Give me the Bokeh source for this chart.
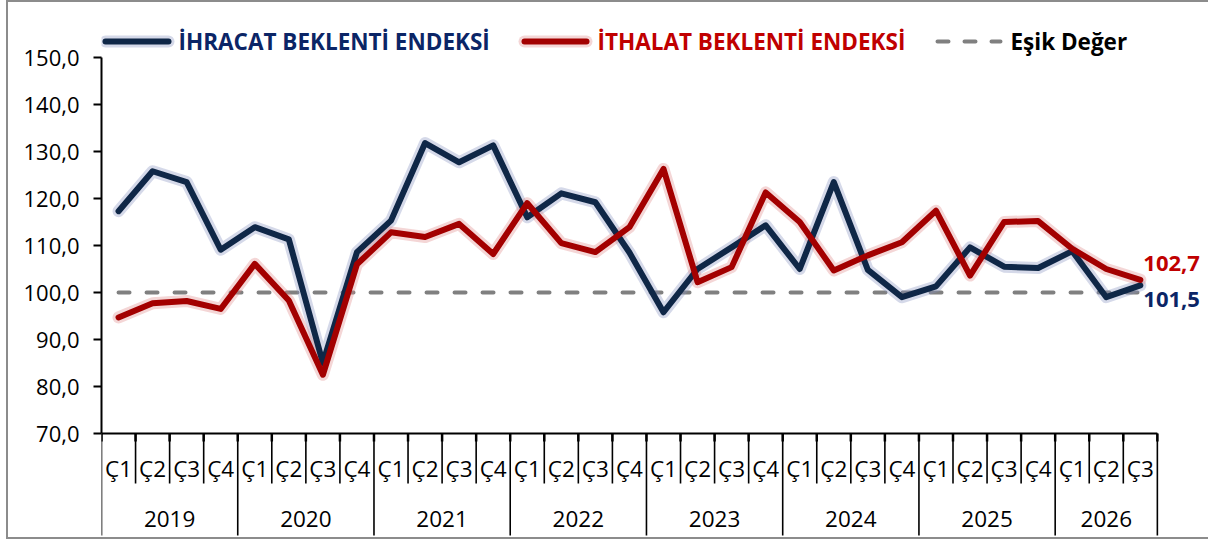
from bokeh.plotting import figure
from bokeh.models import Range1d, LinearAxis, FixedTicker, ColumnDataSource, CustomJSTickFormatter
from bokeh.core.properties import value
from bokeh.embed import file_html
from bokeh.resources import INLINE

# ---------------- data ----------------
years = ["2019", "2020", "2021", "2022", "2023", "2024", "2025", "2026"]
quarters_per_year = [4, 4, 4, 4, 4, 4, 4, 3]
quarter_names = ["Ç1", "Ç2", "Ç3", "Ç4"]

exports = [117.3, 125.8, 123.5, 109.1, 113.9, 111.3, 85.0, 108.6,
           115.3, 131.8, 127.7, 131.3, 116.0, 121.1, 119.2, 108.5,
           95.8, 105.0, 109.6, 114.3, 105.0, 123.5, 104.8, 99.0,
           101.3, 109.6, 105.5, 105.2, 108.8, 99.0, 101.5]
imports = [94.7, 97.7, 98.2, 96.5, 106.1, 98.3, 82.5, 106.0,
           112.8, 111.8, 114.6, 108.2, 119.0, 110.5, 108.6, 113.9,
           126.3, 102.2, 105.4, 121.3, 115.0, 104.7, 107.9, 110.7,
           117.4, 103.6, 115.0, 115.2, 109.3, 105.0, 102.7]
threshold = 100.0
y_ticks = [70, 80, 90, 100, 110, 120, 130, 140, 150]
series_names = ["İHRACAT BEKLENTİ ENDEKSİ", "İTHALAT BEKLENTİ ENDEKSİ", "Eşik Değer"]

# ---------------- layout constants ----------------
W, H = 1208, 539
LEFT = 101
PX_X = 34.06
PX_Y = 4.7
TOP_150 = 57  # px of value 150
Y_MIN, Y_MAX = y_ticks[0], y_ticks[-1]

NAVY = "#0F2747"
NAVY_TXT = "#0B2566"
RED = "#A30000"
RED_TXT = "#C00000"
GRAY = "#808080"
FONT = value("Open Sans")

def sx(px):  # screen x -> data x
    return (px - LEFT) / PX_X

def sy(py):  # screen y -> data y
    return Y_MAX - (py - TOP_150) / PX_Y

n = len(exports)
xs = [i + 0.5 for i in range(n)]
quarter_labels = []
for q in quarters_per_year:
    quarter_labels += quarter_names[:q]

y_end = Y_MAX + TOP_150 / PX_Y
p = figure(width=W, height=H,
           x_range=Range1d(0, (W - LEFT) / PX_X),
           y_range=Range1d(y_end - H / PX_Y, y_end),
           output_backend="svg", toolbar_location=None,
           x_axis_type=None, y_axis_type=None,
           min_border_left=LEFT, min_border_right=0,
           min_border_top=0, min_border_bottom=0)
p.outline_line_color = None
p.background_fill_color = None
p.border_fill_color = None
g = "linear-gradient(#8c8c8c, #8c8c8c)"
p.styles = {
    "background": (f"{g} 6px 0 / 2px 100% no-repeat, "
                   f"{g} 6px 0 / 100% 2px no-repeat, "
                   f"{g} 6px 100% / 100% 2px no-repeat, white"),
}

yaxis = LinearAxis(bounds=(Y_MIN, Y_MAX),
                   ticker=FixedTicker(ticks=y_ticks),
                   formatter=CustomJSTickFormatter(code="return tick.toFixed(1).replace('.', ',');"),
                   axis_line_width=2, axis_line_color="black",
                   major_tick_out=8, major_tick_in=0, major_tick_line_width=2,
                   major_tick_line_color="black",
                   minor_tick_out=0, minor_tick_in=0,
                   major_label_text_font="Open Sans",
                   major_label_text_font_size="22px",
                   major_label_text_color="black",
                   major_label_standoff=14)
p.add_layout(yaxis, "left")

# x axis line
p.segment(x0=[0], y0=[Y_MIN], x1=[n], y1=[Y_MIN], line_color="black", line_width=2)

# separators
year_bounds = [0]
for q in quarters_per_year:
    year_bounds.append(year_bounds[-1] + q)
q_bounds = [b for b in range(n + 1) if b not in year_bounds]
p.segment(x0=year_bounds, y0=[Y_MIN] * len(year_bounds), x1=year_bounds,
          y1=[sy(535)] * len(year_bounds), line_color="black", line_width=1.6)
p.segment(x0=q_bounds, y0=[Y_MIN] * len(q_bounds), x1=q_bounds,
          y1=[sy(483)] * len(q_bounds), line_color="black", line_width=1.6)
allb = list(range(n + 1))
p.segment(x0=allb, y0=[Y_MIN] * len(allb), x1=allb,
          y1=[sy(441)] * len(allb), line_color="black", line_width=2.5)

p.text(x=xs, y=[sy(468)] * n, text=quarter_labels, text_font=FONT,
       text_font_size="22.5px", text_align="center", text_baseline="middle",
       text_color="black")
year_centers = [(year_bounds[i] + year_bounds[i + 1]) / 2 for i in range(len(years))]
p.text(x=year_centers, y=[sy(518)] * len(years), text=years, text_font=FONT,
       text_font_size="22.5px", text_align="center", text_baseline="middle",
       text_color="black")

# threshold line
p.line(xs, [threshold] * n, line_color=GRAY, line_width=4, line_dash="11 17",
       line_cap="round")

src = ColumnDataSource(dict(x=xs, exp=exports, imp=imports))
# halos
p.line("x", "exp", source=src, line_color="#8793c0", line_width=12, line_alpha=0.35,
       line_join="round", line_cap="round")
p.line("x", "imp", source=src, line_color="#e08a8a", line_width=12, line_alpha=0.35,
       line_join="round", line_cap="round")
p.line("x", "exp", source=src, line_color=NAVY, line_width=6, line_join="round",
       line_cap="round")
p.line("x", "imp", source=src, line_color=RED, line_width=6, line_join="round",
       line_cap="round")

def fmt(v):
    return f"{v:.1f}".replace(".", ",")

p.text(x=[xs[-1]], y=[imports[-1]], text=[fmt(imports[-1])], x_offset=3, y_offset=-16,
       text_font=FONT, text_font_style="bold", text_font_size="22px",
       text_color=RED_TXT, text_align="left", text_baseline="middle")
p.text(x=[xs[-1]], y=[exports[-1]], text=[fmt(exports[-1])], x_offset=3, y_offset=14,
       text_font=FONT, text_font_style="bold", text_font_size="22px",
       text_color=NAVY_TXT, text_align="left", text_baseline="middle")

# legend
ly = sy(41)
for (a, b), col, halo in [((105, 168), NAVY, "#8793c0"), ((524, 586), RED, "#e08a8a")]:
    p.line([sx(a), sx(b)], [ly, ly], line_color=halo, line_width=12, line_alpha=0.35,
           line_cap="round")
    p.line([sx(a), sx(b)], [ly, ly], line_color=col, line_width=6, line_cap="round")
p.line([sx(937), sx(1000)], [ly, ly], line_color=GRAY, line_width=4,
       line_dash="11 16", line_cap="round")
for px, txt, col in [(178, series_names[0], NAVY_TXT), (597, series_names[1], RED_TXT),
                     (1010, series_names[2], "black")]:
    p.text(x=[sx(px)], y=[ly], text=[txt], text_font=FONT, text_font_style="bold",
           text_font_size="22.5px", text_color=col, text_align="left",
           text_baseline="middle")

open("out.html", "w").write(file_html(p, INLINE))
